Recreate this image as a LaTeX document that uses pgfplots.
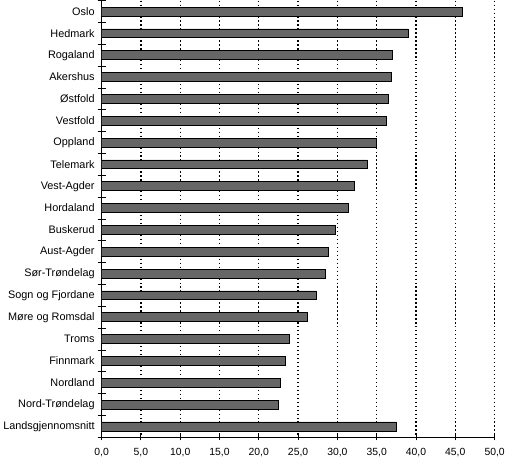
\documentclass[border=0pt]{standalone}
\usepackage{fontspec}
\setmainfont{Liberation Sans}
\usepackage{pgfplots}
\pgfplotsset{compat=1.18}
\usepackage{pgfplotstable}

% andel per fylke, prosent
\pgfplotstableread{
pos value
0 45.9
1 39.0
2 37.0
3 36.9
4 36.5
5 36.2
6 34.9
7 33.8
8 32.1
9 31.4
10 29.8
11 28.8
12 28.5
13 27.3
14 26.2
15 23.9
16 23.4
17 22.8
18 22.5
19 37.5
}\fylker

\begin{document}
\begin{tikzpicture}
\begin{axis}[
    width=396bp, height=440bp,
    scale only axis,
    xbar,
    bar width=9bp,
    xmin=0, xmax=50,
    ymin=-0.5, ymax=19.5,
    y dir=reverse,
    axis x line*=bottom,
    axis y line*=left,
    axis line style={line width=0.9bp},
    xtick={0,5,...,50},
    ytick={0,...,19},
    yticklabels={Oslo,Hedmark,Rogaland,Akershus,Østfold,Vestfold,Oppland,Telemark,Vest-Agder,Hordaland,Buskerud,Aust-Agder,Sør-Trøndelag,Sogn og Fjordane,Møre og Romsdal,Troms,Finnmark,Nordland,Nord-Trøndelag,Landsgjennomsnitt},
    minor ytick={-0.5,0.5,...,19.5},
    tick align=center,
    major tick length=6bp,
    minor tick length=8bp,
    x tick style={black, line width=0.9bp},
    y tick style={draw=none},
    minor y tick style={draw=black, line width=0.9bp},
    xmajorgrids,
    major x grid style={black, line width=1.3bp, dash pattern=on 1.3bp off 2.7bp},
    xticklabel style={font=\fontsize{10.5}{12}\selectfont, yshift=-4bp},
    yticklabel style={font=\fontsize{11}{13}\selectfont, xshift=-0.5bp},
    /pgf/number format/.cd, fixed, fixed zerofill, precision=1, use comma, assume math mode=true,
]
\addplot[fill=black!60, draw=black, line width=0.8bp] table[x=value, y=pos] {\fylker};
\end{axis}
\end{tikzpicture}
\end{document}
